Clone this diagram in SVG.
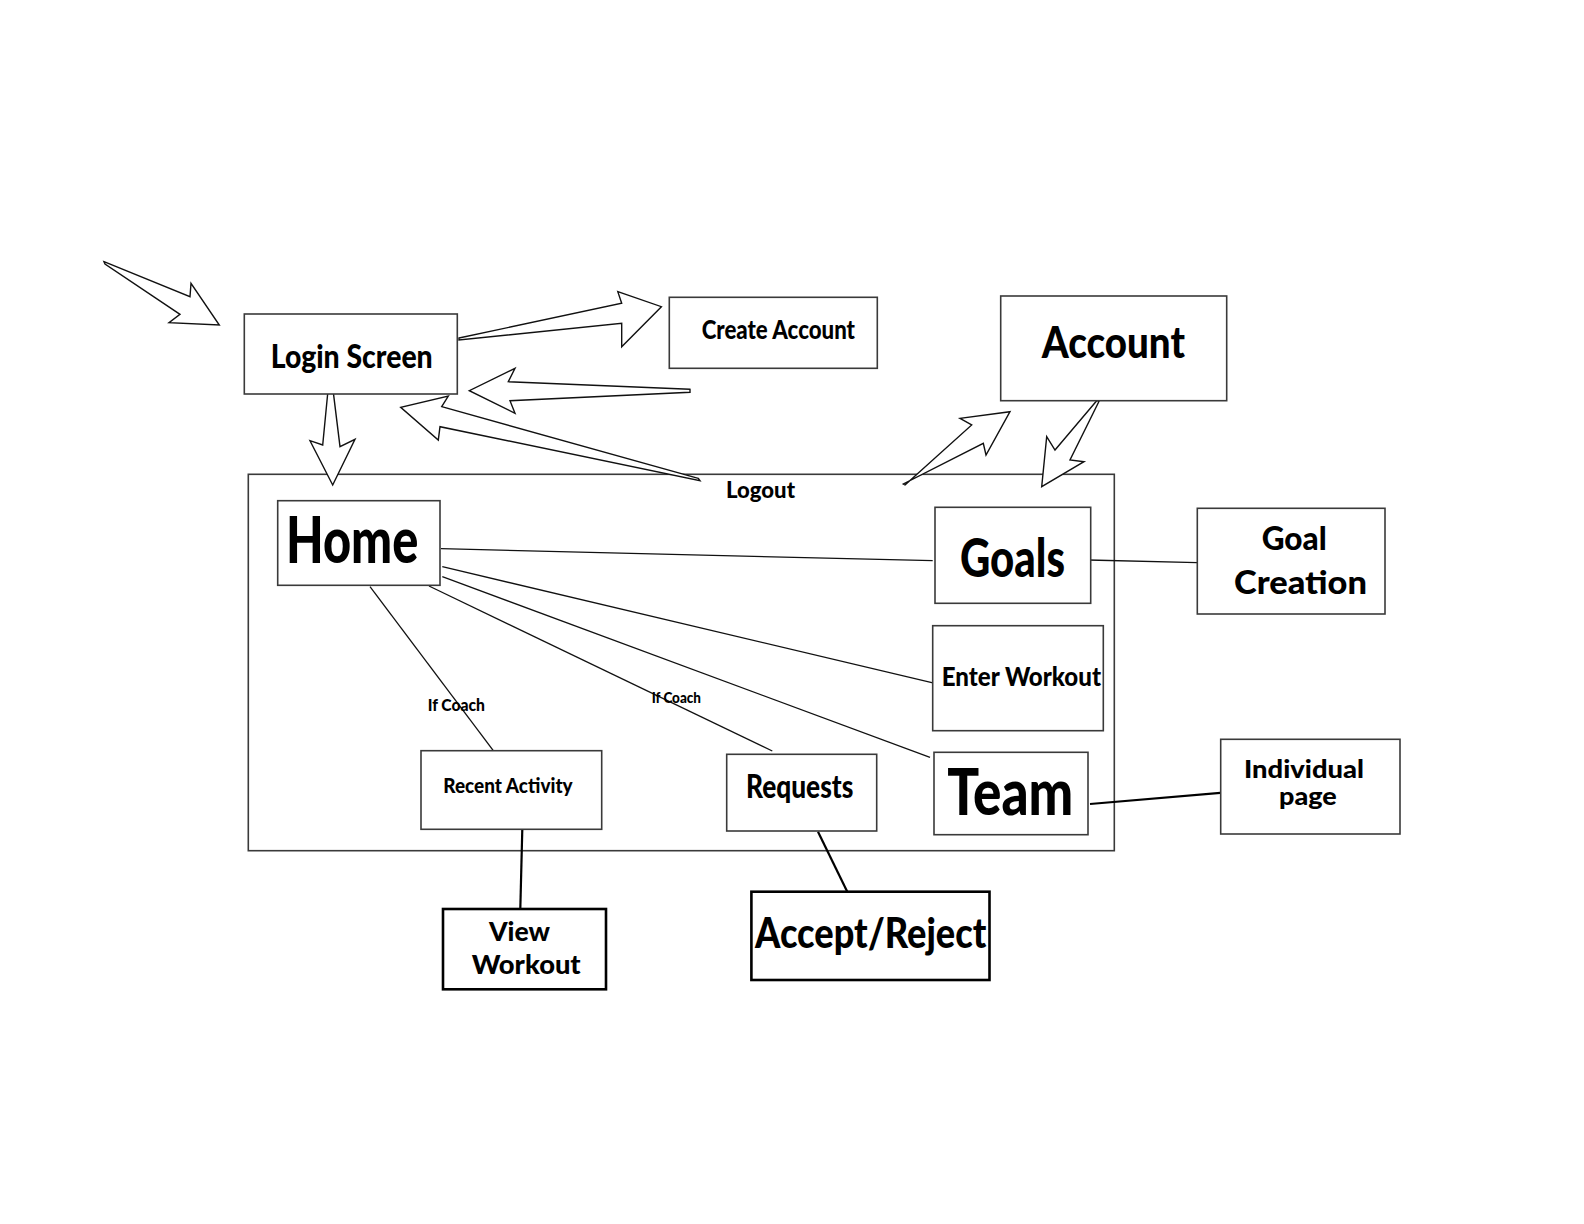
<svg xmlns="http://www.w3.org/2000/svg" width="1584" height="1224" viewBox="0 0 1584 1224">
<style>
.box{fill:#fff;stroke:#3a3a3a;stroke-width:1.6}
.boxb{fill:#fff;stroke:#000;stroke-width:2.6}
.t{font-family:Lato,"Liberation Sans",sans-serif;font-weight:900;fill:#000}
.ln{stroke:#111;stroke-width:1.3;fill:none}
.lnb{stroke:#000;stroke-width:2.2;fill:none}
.ar{fill:#fff;stroke:#111;stroke-width:1.4;stroke-linejoin:miter}
</style>
<rect width="1584" height="1224" fill="#fff"/>
<g id="container">
<rect x="248.3" y="474.3" width="866" height="376.4" class="box"/>
</g>
<g id="connectors">
<line x1="441" y1="548.7" x2="932.7" y2="560.7" class="ln"/>
<line x1="442.3" y1="566.7" x2="935" y2="683.3" class="ln"/>
<line x1="442.3" y1="576.7" x2="930" y2="757.3" class="ln"/>
<line x1="429" y1="586" x2="772.3" y2="751" class="ln"/>
<line x1="370" y1="586.7" x2="493.3" y2="750.7" class="ln"/>
<line x1="1088.3" y1="560" x2="1197.3" y2="562.7" class="ln"/>
<line x1="1090" y1="804" x2="1223.3" y2="792.7" class="lnb" stroke-width="1.8"/>
<line x1="522.3" y1="829.3" x2="520.3" y2="909" class="lnb"/>
<line x1="818" y1="831.7" x2="847.9" y2="893" class="lnb"/>
<polygon class="ar" points="104,261.7 190,296.7 191,283.3 219.3,325 169,322.7 180,314.3 105,264"/>
<polygon class="ar" points="459,338 621.7,303.3 617.8,291.7 661.4,306.7 621.7,346.7 621.7,323.3 459,340"/>
<polygon class="ar" points="690,389.3 508.3,381.7 515,368.3 469.3,390.7 515,413.3 510,400.7 690,392.3"/>
<polygon class="ar" points="698.3,478.3 441.7,406.7 448.3,396 400.7,407.3 438.3,440 440,426.7 700,480.7"/>
<polygon class="ar" points="328.3,387.3 322.7,445 310,440.7 332.7,485 355,439.3 340,446.7 332.7,387.3"/>
<polygon class="ar" points="905,485 971.7,425 960,418.3 1010,411.7 986,455 983.3,443.3 903.3,484"/>
<polygon class="ar" points="1096.7,400.7 1055,450 1046.7,436.7 1041.7,486.7 1084,461.7 1070,460 1099.3,400.7"/>
<text x="427.7" y="710.7" class="t" font-size="17" textLength="57.3" lengthAdjust="spacingAndGlyphs">If Coach</text>
<text x="651.7" y="703.3" class="t" font-size="15" textLength="49.3" lengthAdjust="spacingAndGlyphs">If Coach</text>
<text x="726" y="498.3" class="t" font-size="23" textLength="69" lengthAdjust="spacingAndGlyphs">Logout</text>
</g>
<g id="login">
<rect x="244.3" y="314" width="213" height="80" class="box"/>
<text x="270.7" y="368.3" class="t" font-size="32" textLength="162" lengthAdjust="spacingAndGlyphs">Login Screen</text>
</g>
<g id="create-account">
<rect x="669.3" y="297.3" width="208" height="71" class="box"/>
<text x="701.7" y="339.3" class="t" font-size="27" textLength="153.3" lengthAdjust="spacingAndGlyphs">Create Account</text>
</g>
<g id="account">
<rect x="1000.7" y="296" width="226" height="104.7" class="box"/>
<text x="1041.7" y="358.3" class="t" font-size="44" textLength="143.3" lengthAdjust="spacingAndGlyphs">Account</text>
</g>
<g id="home">
<rect x="277.7" y="500.7" width="162.3" height="84.6" class="box"/>
<text x="286" y="563.3" class="t" font-size="65" textLength="132.3" lengthAdjust="spacingAndGlyphs">Home</text>
</g>
<g id="goals">
<rect x="935" y="507.3" width="155.7" height="96" class="box"/>
<text x="960" y="576.7" class="t" font-size="53" textLength="105" lengthAdjust="spacingAndGlyphs">Goals</text>
</g>
<g id="enter-workout">
<rect x="932.7" y="625.7" width="170.6" height="105" class="box"/>
<text x="941.7" y="686" class="t" font-size="27" textLength="159.3" lengthAdjust="spacingAndGlyphs">Enter Workout</text>
</g>
<g id="team">
<rect x="934" y="752.3" width="154" height="82.4" class="box"/>
<text x="947.3" y="815" class="t" font-size="65" textLength="126" lengthAdjust="spacingAndGlyphs">Team</text>
</g>
<g id="recent-activity">
<rect x="421" y="750.7" width="180.7" height="78.6" class="box"/>
<text x="443.3" y="793.3" class="t" font-size="20" textLength="129.3" lengthAdjust="spacingAndGlyphs">Recent Activity</text>
</g>
<g id="requests">
<rect x="726.7" y="754.3" width="150" height="76.7" class="box"/>
<text x="746" y="798.3" class="t" font-size="32" textLength="107.3" lengthAdjust="spacingAndGlyphs">Requests</text>
</g>
<g id="goal-creation">
<rect x="1197.3" y="508.3" width="187.7" height="105.7" class="box"/>
<text x="1261.7" y="550" class="t" font-size="33" textLength="65" lengthAdjust="spacingAndGlyphs">Goal</text>
<text x="1234" y="594.3" class="t" font-size="33" textLength="133" lengthAdjust="spacingAndGlyphs">Creation</text>
</g>
<g id="individual-page">
<rect x="1220.7" y="739.3" width="179.3" height="94.7" class="box" stroke="#111" stroke-width="2"/>
<text x="1244" y="778" class="t" font-size="25" textLength="120" lengthAdjust="spacingAndGlyphs">Individual</text>
<text x="1279" y="805" class="t" font-size="25" textLength="57.7" lengthAdjust="spacingAndGlyphs">page</text>
</g>
<g id="view-workout">
<rect x="443" y="909" width="163" height="80.3" class="boxb"/>
<text x="489" y="941" class="t" font-size="27" textLength="61" lengthAdjust="spacingAndGlyphs">View</text>
<text x="471.7" y="974" class="t" font-size="27" textLength="109" lengthAdjust="spacingAndGlyphs">Workout</text>
</g>
<g id="accept-reject">
<rect x="751.4" y="891.7" width="238.1" height="88.3" class="boxb"/>
<text x="755" y="948.3" class="t" font-size="42" textLength="231.4" lengthAdjust="spacingAndGlyphs">Accept/Reject</text>
</g>
</svg>
